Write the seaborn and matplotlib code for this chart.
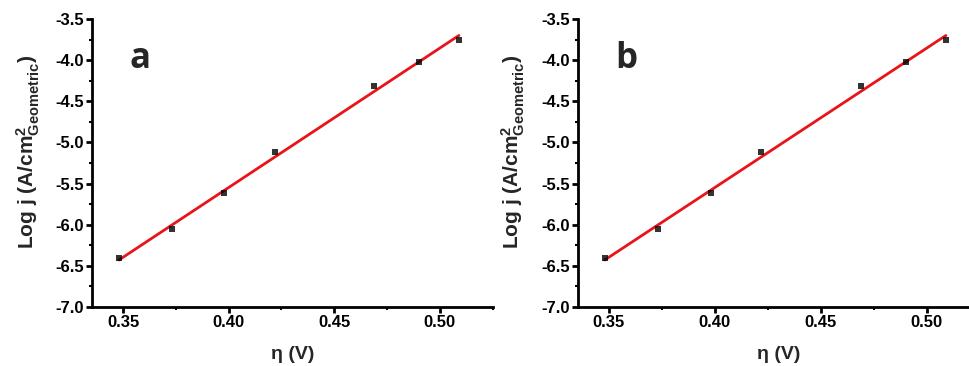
import matplotlib
matplotlib.use("Agg")
import matplotlib.pyplot as plt
from matplotlib.ticker import MultipleLocator, FormatStrFormatter
import seaborn as sns
import pandas as pd

# Data
eta_a = [0.348, 0.373, 0.398, 0.422, 0.469, 0.490, 0.509]
logj_a = [-6.41, -6.055, -5.62, -5.115, -4.315, -4.025, -3.755]
eta_b = [0.348, 0.373, 0.398, 0.422, 0.469, 0.490, 0.509]
logj_b = [-6.41, -6.055, -5.62, -5.115, -4.315, -4.025, -3.755]
panel_labels = ["a", "b"]
x_ticks = [0.35, 0.40, 0.45, 0.50]
y_ticks = [-7.0, -6.5, -6.0, -5.5, -5.0, -4.5, -4.0, -3.5]

sns.set_style("ticks")
plt.rcParams["font.family"] = ["Liberation Sans", "DejaVu Sans"]
plt.rcParams["font.weight"] = "bold"
plt.rcParams["mathtext.fontset"] = "custom"
plt.rcParams["mathtext.rm"] = "Liberation Sans"
plt.rcParams["mathtext.it"] = "Liberation Sans:italic"
plt.rcParams["mathtext.bf"] = "Liberation Sans:bold"

fig = plt.figure(figsize=(9.69, 3.66), dpi=100)
positions = [[92 / 969, 0.1612, 400.7 / 969, 0.787],
             [577.7 / 969, 0.1612, 402.1 / 969, 0.787]]
datasets = [(eta_a, logj_a), (eta_b, logj_b)]

for pos, (xs, ys), lab in zip(positions, datasets, panel_labels):
    ax = fig.add_axes(pos)
    df = pd.DataFrame({"eta": xs, "logj": ys})
    sns.regplot(data=df, x="eta", y="logj", ax=ax, ci=None, truncate=True,
                marker="s",
                scatter_kws=dict(color="black", s=24, zorder=3, linewidths=0),
                line_kws=dict(color="#e8141a", lw=2.0, zorder=2))
    ax.set_xlim(0.3353, 0.525)
    ax.set_ylim(-7.0, -3.5)
    ax.set_xticks(x_ticks)
    ax.set_yticks(y_ticks)
    ax.xaxis.set_major_formatter(FormatStrFormatter("%.2f"))
    ax.yaxis.set_major_formatter(FormatStrFormatter("%.1f"))
    ax.xaxis.set_minor_locator(MultipleLocator(0.025))
    ax.yaxis.set_minor_locator(MultipleLocator(0.25))
    sns.despine(ax=ax)
    for s in ["left", "bottom"]:
        ax.spines[s].set_linewidth(2.0)
        ax.spines[s].set_color("black")
    ax.tick_params(which="major", direction="out", length=4, width=2,
                   labelsize=12, pad=1.5, colors="black")
    ax.tick_params(which="minor", direction="out", length=2.5, width=1.5,
                   colors="black")
    for t in ax.get_xticklabels() + ax.get_yticklabels():
        t.set_fontweight("bold")
    ax.set_xlabel(r"η (V)", fontsize=14, fontweight="bold", labelpad=12)
    ax.set_ylabel(r"Log j (A/cm$^{2}_{\mathrm{Geometric}}$)", fontsize=15,
                  fontweight="bold")
    ax.yaxis.set_label_coords(-0.125, 0.54)
    ax.text(0.12, 0.86, lab, transform=ax.transAxes, fontsize=25,
            fontweight="bold", family=["Open Sans", "DejaVu Sans"],
            ha="center", va="center")

fig.savefig("out.png", dpi=100)
